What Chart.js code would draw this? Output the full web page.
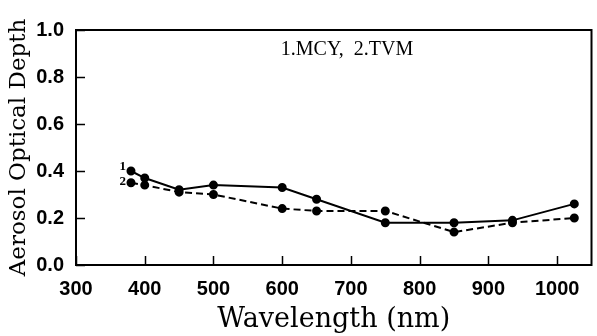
<!DOCTYPE html>
<html>
<head>
<meta charset="utf-8">
<script src="https://cdn.jsdelivr.net/npm/chart.js@4"></script>
<style>
  html, body { margin: 0; padding: 0; background: #fff; }
  #wrap { width: 597px; height: 336px; }
</style>
</head>
<body>
<div id="wrap"><canvas id="aodChart" width="597" height="336"></canvas></div>
<script>
// data
const wavelengths = [380, 400, 450, 500, 600, 650, 750, 850, 935, 1025];
const aodMCY = [0.40, 0.37, 0.32, 0.34, 0.33, 0.28, 0.18, 0.18, 0.19, 0.26];
const aodTVM = [0.35, 0.34, 0.31, 0.30, 0.24, 0.23, 0.23, 0.14, 0.18, 0.20];
const xTicks = [300, 400, 500, 600, 700, 800, 900, 1000];
const yTicks = [0.0, 0.2, 0.4, 0.6, 0.8, 1.0];
const legendText = '1.MCY,  2.TVM';

const toPts = (ys) => wavelengths.map((x, i) => ({ x: x, y: ys[i] }));

// frame, inward ticks, legend text and series numbers
const decor = {
    id: 'decor',
    afterDatasetsDraw(chart) {
        const ctx = chart.ctx;
        const a = chart.chartArea;
        const xs = chart.scales.x, ys = chart.scales.y;
        ctx.save();
        ctx.strokeStyle = '#000';
        ctx.lineWidth = 2;
        ctx.strokeRect(a.left, a.top, a.right - a.left, a.bottom - a.top);
        ctx.lineWidth = 1.5;
        ctx.beginPath();
        xTicks.forEach(v => {
            const px = Math.round(xs.getPixelForValue(v)) + 0.5;
            ctx.moveTo(px, a.bottom); ctx.lineTo(px, a.bottom - 9);
        });
        yTicks.forEach(v => {
            const py = Math.round(ys.getPixelForValue(v)) + 0.5;
            ctx.moveTo(a.left, py); ctx.lineTo(a.left + 9, py);
        });
        ctx.stroke();

        ctx.fillStyle = '#000';
        ctx.font = '20px "Liberation Serif"';
        ctx.textAlign = 'center';
        ctx.textBaseline = 'middle';
        ctx.fillText(legendText, 347, 50);

        ctx.font = 'bold 13px "Liberation Serif"';
        ctx.textAlign = 'right';
        const x0 = xs.getPixelForValue(wavelengths[0]) - 5;
        ctx.fillText('1', x0, ys.getPixelForValue(aodMCY[0]) - 4);
        ctx.fillText('2', x0, ys.getPixelForValue(aodTVM[0]) - 1);
        ctx.restore();
    }
};

new Chart(document.getElementById('aodChart'), {
    type: 'line',
    data: {
        datasets: [
            { label: 'MCY', data: toPts(aodMCY), borderColor: '#000', backgroundColor: '#000', borderWidth: 2, pointRadius: 3.5, pointHoverRadius: 3.5, tension: 0 },
            { label: 'TVM', data: toPts(aodTVM), borderColor: '#000', backgroundColor: '#000', borderWidth: 2, borderDash: [7, 4], pointRadius: 3.5, pointHoverRadius: 3.5, tension: 0 }
        ]
    },
    options: {
        responsive: false,
        animation: false,
        layout: { padding: { top: 30, right: 4, left: 0, bottom: 0 } },
        plugins: { legend: { display: false }, tooltip: { enabled: false } },
        scales: {
            x: {
                type: 'linear', min: 300, max: 1050,
                afterBuildTicks: (s) => { s.ticks = xTicks.map(v => ({ value: v })); },
                afterFit: (s) => { s.height = 71; },
                grid: { display: false },
                border: { display: false },
                ticks: { color: '#000', padding: 4, maxRotation: 0, callback: (v) => String(v), font: { family: 'Liberation Sans', size: 20, weight: 'bold' } },
                title: { display: true, text: 'Wavelength (nm)', color: '#000', padding: { top: 2, bottom: 0 }, font: { family: 'DejaVu Serif', size: 27 } }
            },
            y: {
                min: 0, max: 1,
                afterBuildTicks: (s) => { s.ticks = yTicks.map(v => ({ value: v })); },
                afterFit: (s) => { s.width = 76; },
                grid: { display: false },
                border: { display: false },
                ticks: { color: '#000', padding: 4, callback: (v) => v.toFixed(1), font: { family: 'Liberation Sans', size: 20, weight: 'bold' } },
                title: { display: true, text: 'Aerosol Optical Depth', color: '#000', padding: { top: 5, bottom: 0 }, font: { family: 'DejaVu Serif', size: 23 } }
            }
        }
    },
    plugins: [decor]
});
</script>
</body>
</html>
